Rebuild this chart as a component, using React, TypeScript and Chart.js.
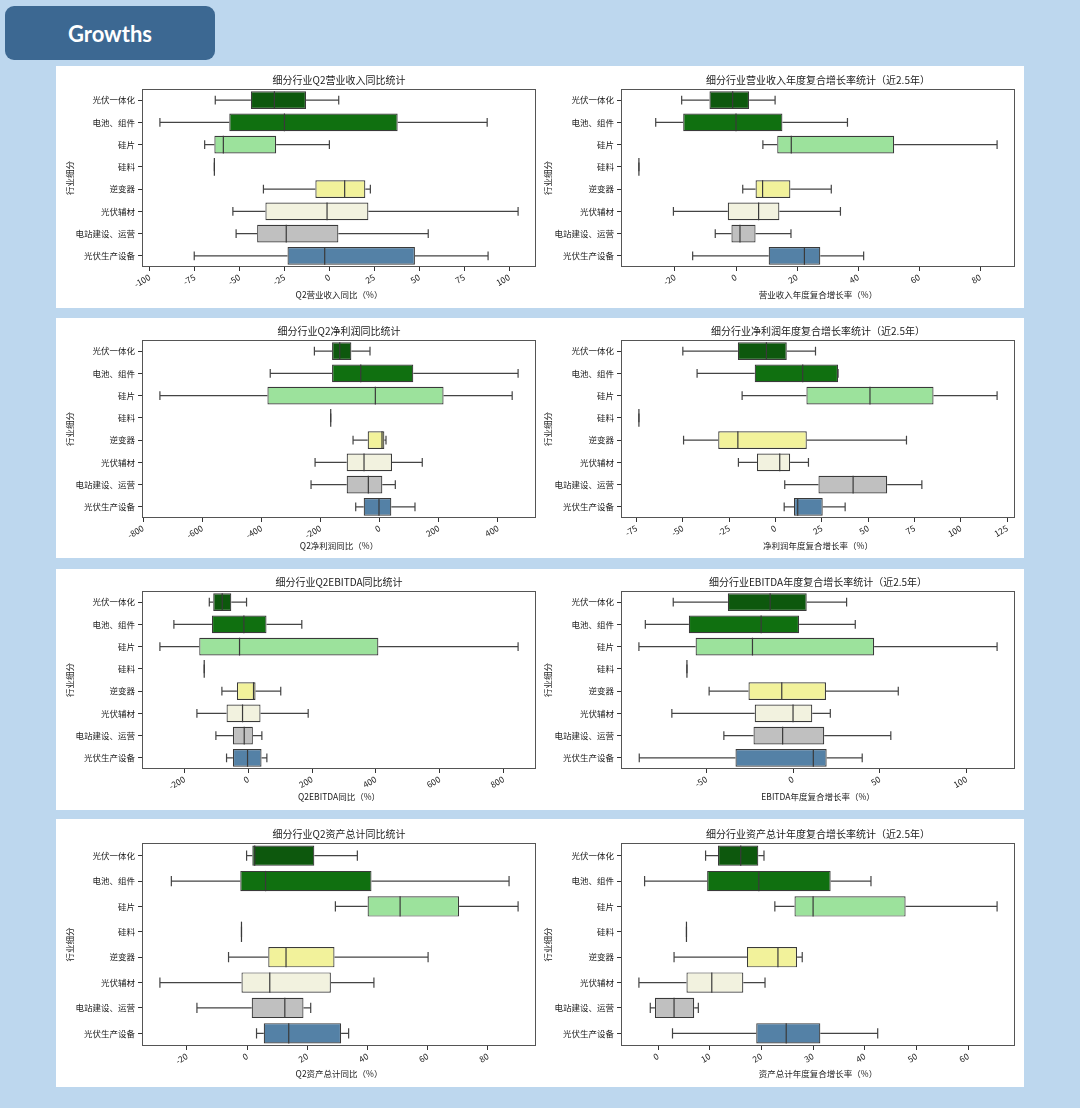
import React, { useEffect, useRef } from "react";
import { Chart, registerables } from "chart.js";

Chart.register(...registerables);

const categories = ["光伏一体化", "电池、组件", "硅片", "硅料", "逆变器", "光伏辅材", "电站建设、运营", "光伏生产设备"];
const boxColors = ["#0d580d", "#107010", "#9ce29c", "#f2f29b", "#f2f29b", "#f2f2df", "#c0c0c0", "#5481a6"];

// Panel 1: Q2 营业收入同比
const revYoyLo = [-63.5, -94.3, -69.4, -64, -36.7, -53.7, -51.9, -75.2];
const revYoyQ1 = [-43.7, -55.7, -64, -64, -7.8, -35.6, -40.2, -23.3];
const revYoyMed = [-30.6, -25, -59, -64, 8.5, -1.3, -24, -2.6];
const revYoyQ3 = [-13, 38, -29.6, -64, 20, 21.7, 5, 47.6];
const revYoyHi = [5.2, 87.8, 0, -64, 22.8, 105, 55, 88.3];
const revYoyTicks = [-100, -75, -50, -25, 0, 25, 50, 75, 100];

// Panel 2: 营业收入年度复合增长率
const revCagrLo = [-17.8, -26.3, 8.8, -31.8, 2.2, -20.5, -6.8, -14.2];
const revCagrQ1 = [-8.7, -17.3, 13.5, -31.8, 6.4, -2.7, -1.5, 10.7];
const revCagrMed = [-1.1, 0, 18.1, -31.8, 8.7, 7.4, 1.3, 22.4];
const revCagrQ3 = [4.3, 15.2, 51.8, -31.8, 17.8, 14.2, 6.4, 27.6];
const revCagrHi = [12.8, 36.5, 85.5, -31.8, 31.2, 34.2, 18, 41.8];
const revCagrTicks = [-20, 0, 20, 40, 60, 80];

// Panel 3: Q2 净利润同比
const npYoyLo = [-220.7, -370, -743, -165.5, -90, -218.4, -232, -81];
const npYoyQ1 = [-161, -161, -379.5, -165.5, -40.5, -111.5, -111.5, -54];
const npYoyMed = [-135, -64, -14.6, -165.5, 7.9, -52.9, -38.3, -2.3];
const npYoyQ3 = [-95.7, 113.7, 216, -165.5, 15.8, 41.7, 9, 39.4];
const npYoyHi = [-32.7, 468, 448, -165.5, 21.4, 144, 52.9, 119.4];
const npYoyTicks = [-800, -600, -400, -200, 0, 200, 400];

// Panel 4: 净利润年度复合增长率
const npCagrLo = [-50, -42.3, -18, -73.7, -49.6, -20, 5, 4.7];
const npCagrQ1 = [-20.3, -11.2, 16.7, -73.7, -30.9, -10, 23.2, 10];
const npCagrMed = [-4.9, 14.7, 51, -73.7, -20.3, 2.3, 41.9, 12];
const npCagrQ3 = [6.1, 33.8, 85.3, -73.7, 16.9, 7.9, 60.3, 25.5];
const npCagrHi = [21.6, 33.8, 119.6, -73.7, 70.7, 17.8, 79, 37.6];
const npCagrTicks = [-75, -50, -25, 0, 25, 50, 75, 100, 125];

// Panel 5: Q2 EBITDA 同比
const ebYoyLo = [-122, -233, -276.8, -137.9, -82.5, -160.8, -101.3, -67.9];
const ebYoyQ1 = [-109.7, -113.8, -153.5, -137.9, -35.5, -67.9, -48, -48];
const ebYoyMed = [-81.5, -13.6, -27.2, -137.9, 16.7, -17.8, -12.5, -2.1];
const ebYoyQ3 = [-53, 57.4, 408, -137.9, 23, 38.6, 14.6, 41.8];
const ebYoyHi = [-5.2, 168, 846, -137.9, 102, 188, 42.8, 58.5];
const ebYoyTicks = [-200, 0, 200, 400, 600, 800];

// Panel 6: EBITDA 年度复合增长率
const ebCagrLo = [-69.1, -85.2, -88.9, -61.2, -48.4, -69.9, -39.9, -88.7];
const ebCagrQ1 = [-37.6, -60.1, -56.2, -61.2, -25.7, -22.1, -22.8, -33.2];
const ebCagrMed = [-13.2, -18.4, -23.4, -61.2, -6.5, 0, -6, 11.7];
const ebCagrQ3 = [7.9, 3.5, 46.8, -61.2, 19, 11.1, 18, 19.4];
const ebCagrHi = [30.9, 35.9, 117.7, -61.2, 60.7, 21.5, 56.4, 39.9];
const ebCagrTicks = [-50, 0, 50, 100];

// Panel 7: Q2 资产总计同比
const taYoyLo = [-0.2, -25.2, 29.3, -1.9, -6.2, -29, -16.7, 3.1];
const taYoyQ1 = [1.7, -2.3, 40, -1.9, 7, -1.9, 1.5, 5.5];
const taYoyMed = [2.5, 6.1, 50.8, -1.9, 12.9, 7.5, 12.5, 13.8];
const taYoyQ3 = [22.3, 41.3, 70.4, -1.9, 29, 27.8, 18.7, 31.2];
const taYoyHi = [36.6, 87, 90, -1.9, 60.1, 42.1, 21.1, 33.7];
const taYoyTicks = [-20, 0, 20, 40, 60, 80];

// Panel 8: 资产总计年度复合增长率
const taCagrLo = [9.2, -2.6, 22.6, 5.5, 3.1, -3.7, -1.5, 2.8];
const taCagrQ1 = [11.6, 9.5, 26.4, 5.5, 17.2, 5.5, -0.6, 19];
const taCagrMed = [16, 19.5, 30, 5.5, 23.2, 10.4, 3.1, 24.8];
const taCagrQ3 = [19.4, 33.4, 47.9, 5.5, 26.9, 16.5, 7, 31.4];
const taCagrHi = [20.5, 41.2, 65.6, 5.5, 27.9, 20.7, 7.8, 42.5];
const taCagrTicks = [0, 10, 20, 30, 40, 50, 60];

const titles = [
  "细分行业Q2营业收入同比统计",
  "细分行业营业收入年度复合增长率统计（近2.5年）",
  "细分行业Q2净利润同比统计",
  "细分行业净利润年度复合增长率统计（近2.5年）",
  "细分行业Q2EBITDA同比统计",
  "细分行业EBITDA年度复合增长率统计（近2.5年）",
  "细分行业Q2资产总计同比统计",
  "细分行业资产总计年度复合增长率统计（近2.5年）",
];
const xLabels = [
  "Q2营业收入同比（%）",
  "营业收入年度复合增长率（%）",
  "Q2净利润同比（%）",
  "净利润年度复合增长率（%）",
  "Q2EBITDA同比（%）",
  "EBITDA年度复合增长率（%）",
  "Q2资产总计同比（%）",
  "资产总计年度复合增长率（%）",
];
const yLabel = "行业细分";

type Stats = { lo: number[]; q1: number[]; med: number[]; q3: number[]; hi: number[]; ticks: number[] };
const stats: Stats[] = [
  { lo: revYoyLo, q1: revYoyQ1, med: revYoyMed, q3: revYoyQ3, hi: revYoyHi, ticks: revYoyTicks },
  { lo: revCagrLo, q1: revCagrQ1, med: revCagrMed, q3: revCagrQ3, hi: revCagrHi, ticks: revCagrTicks },
  { lo: npYoyLo, q1: npYoyQ1, med: npYoyMed, q3: npYoyQ3, hi: npYoyHi, ticks: npYoyTicks },
  { lo: npCagrLo, q1: npCagrQ1, med: npCagrMed, q3: npCagrQ3, hi: npCagrHi, ticks: npCagrTicks },
  { lo: ebYoyLo, q1: ebYoyQ1, med: ebYoyMed, q3: ebYoyQ3, hi: ebYoyHi, ticks: ebYoyTicks },
  { lo: ebCagrLo, q1: ebCagrQ1, med: ebCagrMed, q3: ebCagrQ3, hi: ebCagrHi, ticks: ebCagrTicks },
  { lo: taYoyLo, q1: taYoyQ1, med: taYoyMed, q3: taYoyQ3, hi: taYoyHi, ticks: taYoyTicks },
  { lo: taCagrLo, q1: taCagrQ1, med: taCagrMed, q3: taCagrQ3, hi: taCagrHi, ticks: taCagrTicks },
];

// layout: card rows [top, bottom, plotTop, plotBottom]
const rows = [
  [66, 308, 89, 267],
  [318, 558, 340, 518],
  [569, 810, 591, 769],
  [819, 1087, 843, 1046],
];
const cols = [
  { x: 56, w: 484, plotLeft: 142, plotRight: 536, yTitleX: 14 },
  { x: 540, w: 484, plotLeft: 621, plotRight: 1015, yTitleX: 8 },
];

const FONT = "'Noto Sans CJK SC', 'Noto Sans', sans-serif";
const EDGE = "#3a3a3a";
const WHISKER = "#444444";

const boxPlugin = {
  id: "boxDraw",
  afterDatasetsDraw(chart: any, _args: any, opts: any) {
    const { ctx, chartArea, scales } = chart;
    const x = scales.x;
    const y = scales.y;
    const s: Stats = opts.stats;
    const band = Math.abs(y.getPixelForValue(1) - y.getPixelForValue(0));
    const halfBox = band * 0.4;
    const halfCap = band * 0.2;
    ctx.save();
    ctx.lineWidth = 1.2;
    for (let i = 0; i < s.lo.length; i++) {
      const yc = y.getPixelForValue(i);
      const xl = x.getPixelForValue(s.lo[i]);
      const x1 = x.getPixelForValue(s.q1[i]);
      const xm = x.getPixelForValue(s.med[i]);
      const x3 = x.getPixelForValue(s.q3[i]);
      const xh = x.getPixelForValue(s.hi[i]);
      ctx.strokeStyle = WHISKER;
      ctx.beginPath();
      ctx.moveTo(xl, yc);
      ctx.lineTo(x1, yc);
      ctx.moveTo(x3, yc);
      ctx.lineTo(xh, yc);
      ctx.moveTo(xl, yc - halfCap);
      ctx.lineTo(xl, yc + halfCap);
      ctx.moveTo(xh, yc - halfCap);
      ctx.lineTo(xh, yc + halfCap);
      ctx.stroke();
      ctx.strokeStyle = EDGE;
      ctx.beginPath();
      ctx.moveTo(xm, yc - halfBox);
      ctx.lineTo(xm, yc + halfBox);
      ctx.stroke();
    }
    ctx.restore();
  },
  afterDraw(chart: any, _args: any, opts: any) {
    const { ctx, chartArea } = chart;
    const { left, right, top, bottom } = chartArea;
    ctx.save();
    ctx.strokeStyle = "#555555";
    ctx.lineWidth = 1;
    ctx.strokeRect(left + 0.5, top + 0.5, right - left - 1, bottom - top - 1);
    ctx.fillStyle = "#1a1a1a";
    ctx.textAlign = "center";
    ctx.textBaseline = "middle";
    ctx.font = `10px ${FONT}`;
    ctx.fillText(opts.title, (left + right) / 2, top - 9);
    ctx.font = `8.5px ${FONT}`;
    ctx.fillText(opts.xLabel, (left + right) / 2, bottom + 28);
    ctx.translate(opts.yTitleX, (top + bottom) / 2);
    ctx.rotate(-Math.PI / 2);
    ctx.fillText(yLabel, 0, 0);
    ctx.restore();
  },
};

function BoxChart({ idx }: { idx: number }) {
  const ref = useRef<HTMLCanvasElement>(null);
  const row = rows[Math.floor(idx / 2)];
  const col = cols[idx % 2];
  const h = row[1] - row[0];
  useEffect(() => {
    const s = stats[idx];
    const all = [...s.lo, ...s.hi];
    const dMin = Math.min(...all);
    const dMax = Math.max(...all);
    const margin = (dMax - dMin) * 0.05;
    const yW = col.plotLeft - col.x - 4;
    const xH = row[1] - row[3];
    const chart = new Chart(ref.current as HTMLCanvasElement, {
      type: "bar",
      data: {
        labels: categories,
        datasets: [
          {
            data: categories.map((_, i) => [s.q1[i], s.q3[i]]) as any,
            backgroundColor: boxColors,
            borderColor: EDGE,
            borderWidth: 1.2,
            borderSkipped: false,
            barPercentage: 0.8,
            categoryPercentage: 1,
          },
        ],
      },
      options: {
        indexAxis: "y",
        responsive: false,
        animation: false,
        layout: {
          padding: { left: 4, right: col.x + col.w - col.plotRight, top: row[2] - row[0], bottom: 0 },
        },
        plugins: {
          legend: { display: false },
          tooltip: { enabled: false },
          boxDraw: { stats: s, title: titles[idx], xLabel: xLabels[idx], yTitleX: col.yTitleX },
        } as any,
        scales: {
          x: {
            type: "linear",
            min: dMin - margin,
            max: dMax + margin,
            afterBuildTicks: (sc: any) => {
              sc.ticks = s.ticks.map((v) => ({ value: v }));
            },
            afterFit: (sc: any) => {
              sc.height = xH;
            },
            border: { display: false },
            grid: { display: true, drawOnChartArea: false, drawTicks: true, tickLength: 4, color: "#333333" },
            ticks: {
              autoSkip: false,
              minRotation: 30,
              maxRotation: 30,
              padding: 1,
              color: "#1a1a1a",
              font: { family: FONT, size: 8.5 },
              callback: (v: any) => String(v),
            },
          },
          y: {
            type: "category",
            offset: true,
            afterFit: (sc: any) => {
              sc.width = yW;
            },
            border: { display: false },
            grid: { display: true, offset: false, drawOnChartArea: false, drawTicks: true, tickLength: 4, color: "#333333" },
            ticks: { padding: 3, color: "#1a1a1a", font: { family: FONT, size: 8.5 } },
          },
        },
      } as any,
      plugins: [boxPlugin as any],
    });
    return () => chart.destroy();
  }, [idx]);
  return (
    <canvas
      ref={ref}
      width={col.w}
      height={h}
      style={{ position: "absolute", left: col.x, top: row[0], width: col.w, height: h }}
    />
  );
}

export default function App() {
  return (
    <div
      style={{
        position: "absolute",
        left: 0,
        top: 0,
        width: 1080,
        height: 1108,
        background: "#bdd7ee",
        overflow: "hidden",
      }}
    >
      <div
        style={{
          position: "absolute",
          left: 5,
          top: 6,
          width: 210,
          height: 54,
          borderRadius: 9,
          background: "#3c6892",
          color: "#ffffff",
          fontFamily: "Lato, 'Open Sans', sans-serif",
          fontWeight: 700,
          fontSize: 22,
          display: "flex",
          alignItems: "center",
          justifyContent: "center",
        }}
      >
        Growths
      </div>
      {rows.map((r, i) => (
        <div
          key={"card" + i}
          style={{ position: "absolute", left: 56, top: r[0], width: 968, height: r[1] - r[0], background: "#ffffff" }}
        />
      ))}
      {stats.map((_, i) => (
        <BoxChart key={i} idx={i} />
      ))}
    </div>
  );
}
